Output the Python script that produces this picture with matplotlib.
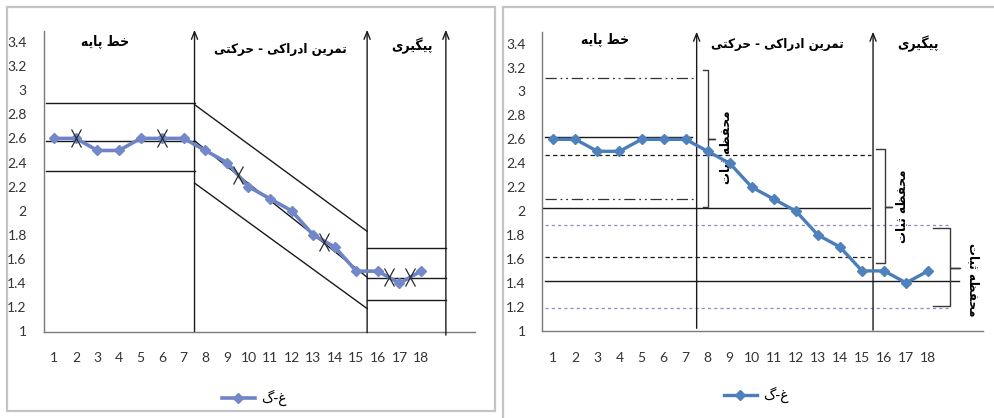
import matplotlib
matplotlib.use("Agg")
import matplotlib.pyplot as plt
from matplotlib.path import Path
from matplotlib.lines import Line2D
from matplotlib.patches import Rectangle

# ---------------- data ----------------
sessions = list(range(1, 19))
scores = [2.6, 2.6, 2.5, 2.5, 2.6, 2.6, 2.6, 2.5, 2.4, 2.2, 2.1, 2.0, 1.8, 1.7, 1.5, 1.5, 1.4, 1.5]

# phase boundaries (between sessions)
phase_bounds_left = [7.5, 15.5, 19.15]
phase_bounds_right = [7.5, 15.5]

# split-middle points (left chart)
split_x = [2, 6, 9.5, 13.5, 16.5, 17.5]
split_y = [2.6, 2.6, 2.3, 1.74, 1.45, 1.45]

# trend bands (left chart): baseline levels, intervention trend ends, follow-up levels
base_levels = [2.89, 2.58, 2.33]
trend_start = [2.88, 2.58, 2.23]
trend_end = [1.83, 1.45, 1.19]
follow_levels = [1.69, 1.44, 1.26]

# stability envelopes (right chart)
base_median = 2.62
base_env = [3.11, 2.10]
interv_median = 2.03
interv_env = [2.47, 1.62]
follow_median = 1.415
follow_env = [1.88, 1.19]

legend_label = "غ-گ"
phase_names = ["خط پایه", "تمرین ادراکی - حرکتی", "پیگیری"]
envelope_label = "محفظه ثبات"

# ---------------- Persian shaping (presentation forms, visual order) ----------------
FORMS = {
    'ا': ('\uFE8D', '\uFE8E', None, None),
    'ب': ('\uFE8F', '\uFE90', '\uFE91', '\uFE92'),
    'پ': ('\uFB56', '\uFB57', '\uFB58', '\uFB59'),
    'ت': ('\uFE95', '\uFE96', '\uFE97', '\uFE98'),
    'ث': ('\uFE99', '\uFE9A', '\uFE9B', '\uFE9C'),
    'ح': ('\uFEA1', '\uFEA2', '\uFEA3', '\uFEA4'),
    'خ': ('\uFEA5', '\uFEA6', '\uFEA7', '\uFEA8'),
    'د': ('\uFEA9', '\uFEAA', None, None),
    'ر': ('\uFEAD', '\uFEAE', None, None),
    'ط': ('\uFEC1', '\uFEC2', '\uFEC3', '\uFEC4'),
    'ظ': ('\uFEC5', '\uFEC6', '\uFEC7', '\uFEC8'),
    'غ': ('\uFECD', '\uFECE', '\uFECF', '\uFED0'),
    'ف': ('\uFED1', '\uFED2', '\uFED3', '\uFED4'),
    'ک': ('\uFB8E', '\uFB8F', '\uFB90', '\uFB91'),
    'گ': ('\uFB92', '\uFB93', '\uFB94', '\uFB95'),
    'م': ('\uFEE1', '\uFEE2', '\uFEE3', '\uFEE4'),
    'ن': ('\uFEE5', '\uFEE6', '\uFEE7', '\uFEE8'),
    'ه': ('\uFEE9', '\uFEEA', '\uFEEB', '\uFEEC'),
    'ی': ('\uFBFC', '\uFBFD', '\uFBFE', '\uFBFF'),
}


def rtl(text):
    out = []
    n = len(text)
    for i, ch in enumerate(text):
        f = FORMS.get(ch)
        if f is None:
            out.append(ch)
            continue
        prev = text[i - 1] if i > 0 else ''
        nxt = text[i + 1] if i + 1 < n else ''
        jp = prev in FORMS and FORMS[prev][2] is not None
        jn = f[2] is not None and nxt in FORMS
        if jp and jn:
            g = f[3]
        elif jp:
            g = f[1]
        elif jn:
            g = f[2]
        else:
            g = f[0]
        out.append(g)
    return ''.join(reversed(out))


FA = ['DejaVu Sans']
NUM = ['Lato', 'DejaVu Sans']
FA_KW = dict(family=FA, weight='bold', stretch='condensed')

# ---------------- figure ----------------
W, H = 995, 418
fig = plt.figure(figsize=(W / 100, H / 100), dpi=100)
fig.patch.set_facecolor('white')


def fx(px):
    return px / W


def fy(py):
    return 1 - py / H


# panel frames
fig.patches.append(Rectangle((fx(7), fy(411)), fx(495) - fx(7), fy(7) - fy(411),
                             transform=fig.transFigure, fill=False,
                             edgecolor='#c4c4c4', lw=1.6))
fig.patches.append(Rectangle((fx(503), fy(430)), fx(1010) - fx(503), fy(7) - fy(430),
                             transform=fig.transFigure, fill=False,
                             edgecolor='#c4c4c4', lw=1.6))

axL = fig.add_axes([fx(43.5), fy(331.5), fx(475) - fx(43.5), fy(31) - fy(331.5)])
axR = fig.add_axes([fx(542.3), fy(330.7), fx(983.3) - fx(542.3), fy(31.7) - fy(330.7)])

yt = [1, 1.2, 1.4, 1.6, 1.8, 2, 2.2, 2.4, 2.6, 2.8, 3, 3.2, 3.4]
ytl = ['1', '1.2', '1.4', '1.6', '1.8', '2', '2.2', '2.4', '2.6', '2.8', '3', '3.2', '3.4']

for ax, top in ((axL, 3.49), (axR, 3.5)):
    ax.set_xlim(0.5, 20.5)
    ax.set_ylim(1, top)
    ax.set_facecolor('none')
    for s in ('top', 'right'):
        ax.spines[s].set_visible(False)
    for s in ('left', 'bottom'):
        ax.spines[s].set_color('#7a7a7a')
        ax.spines[s].set_linewidth(1.0)
    ax.set_xticks(sessions)
    ax.set_xticklabels([str(s) for s in sessions], family=NUM, fontsize=10, color='#333333')
    ax.set_yticks(yt)
    ax.set_yticklabels(ytl, family=NUM, fontsize=10, color='#333333')
    ax.tick_params(axis='x', length=0, pad=15)
    ax.tick_params(axis='y', length=0, pad=12)

# ---------------- left chart ----------------
k = '#1a1a1a'
for lv in base_levels:
    axL.plot([0.6, 7.5], [lv, lv], color=k, lw=1.0)
for a, b in zip(trend_start, trend_end):
    axL.plot([7.5, 15.5], [a, b], color=k, lw=1.0)
for lv in follow_levels:
    axL.plot([15.5, 19.15], [lv, lv], color=k, lw=1.0)

axL.plot(sessions, scores, color='#6f84c6', lw=2.6, marker='D', ms=5.5,
         mfc='#7288c8', mec='#7288c8', zorder=4)

xmark = Path([(-0.55, -1), (0.55, 1), (-0.55, 1), (0.55, -1)],
             [Path.MOVETO, Path.LINETO, Path.MOVETO, Path.LINETO])
axL.plot(split_x, split_y, ls='none', marker=xmark, ms=13, mfc='none',
         mec='#2a2a2a', mew=0.9, zorder=5)

bottoms_L = [1.0, 0.99, 0.97]
for xb, yb in zip(phase_bounds_left, bottoms_L):
    axL.annotate('', xy=(xb, 3.50), xytext=(xb, yb), annotation_clip=False,
                 arrowprops=dict(arrowstyle='->,head_length=0.55,head_width=0.22',
                                 color=k, lw=1.0, shrinkA=0, shrinkB=0))

axL.text(3.35, 3.40, rtl(phase_names[0]), fontsize=10, ha='center', va='center', **FA_KW)
axL.text(11.47, 3.34, rtl(phase_names[1]), fontsize=9.5, ha='center', va='center', **FA_KW)
axL.text(17.6, 3.37, rtl(phase_names[2]), fontsize=10, ha='center', va='center', **FA_KW)

# ---------------- right chart ----------------
blue = '#4a7ebb'
dashdotdot = (0, (9, 3, 1.5, 3, 1.5, 3))
for lv in base_env:
    axR.plot([0.6, 7.4], [lv, lv], color='#333333', lw=0.9, ls=dashdotdot)
axR.plot([0.6, 7.3], [base_median, base_median], color=k, lw=1.0)
axR.plot([0.4, 15.35], [interv_median, interv_median], color=k, lw=1.0)
for lv in interv_env:
    axR.plot([0.6, 15.4], [lv, lv], color=k, lw=0.9, ls=(0, (3.5, 2.5)))
for lv in follow_env:
    axR.plot([0.6, 18.9], [lv, lv], color='#8a8cc0', lw=0.9, ls=(0, (2.5, 2.5)))
axR.plot([0.6, 19.4], [follow_median, follow_median], color=k, lw=1.0)

axR.plot(sessions, scores, color=blue, lw=2.4, marker='D', ms=5.5,
         mfc='#4f81bd', mec='#4f81bd', zorder=4)

bottoms_R = [1.02, 1.005]
for xb, yb in zip(phase_bounds_right, bottoms_R):
    axR.annotate('', xy=(xb, 3.50), xytext=(xb, yb), annotation_clip=False,
                 arrowprops=dict(arrowstyle='->,head_length=0.55,head_width=0.22',
                                 color=k, lw=1.0, shrinkA=0, shrinkB=0))

axR.text(3.34, 3.43, rtl(phase_names[0]), fontsize=10, ha='center', va='center', **FA_KW)
axR.text(11.18, 3.39, rtl(phase_names[1]), fontsize=9.5, ha='center', va='center', **FA_KW)
axR.text(17.52, 3.40, rtl(phase_names[2]), fontsize=10, ha='center', va='center', **FA_KW)


def brace(ax, x, x_left, x_nub, y_top, y_bot, y_mid):
    ax.plot([x_left, x, x, x_nub, x, x, x_left],
            [y_top, y_top, y_mid, y_mid, y_mid, y_bot, y_bot],
            color='#3a3a3a', lw=1.0, clip_on=False, solid_joinstyle='round')


brace(axR, 8.02, 7.77, 8.33, 3.177, 2.035, 2.607)
brace(axR, 16.03, 15.62, 16.34, 2.523, 1.563, 2.035)
brace(axR, 19.01, 18.21, 19.44, 1.855, 1.209, 1.526)

axR.text(8.83, 2.53, rtl(envelope_label), fontsize=9.5, rotation=90,
         ha='center', va='center', **FA_KW)
axR.text(16.8, 2.04, rtl(envelope_label), fontsize=9.5, rotation=90,
         ha='center', va='center', **FA_KW)
axR.text(20.06, 1.43, rtl(envelope_label), fontsize=9.5, rotation=270,
         ha='center', va='center', clip_on=False, **FA_KW)

# ---------------- legends ----------------
hL = Line2D([], [], color='#6f84c6', lw=2.6, marker='D', ms=5.5, mfc='#7288c8', mec='#7288c8')
hR = Line2D([], [], color=blue, lw=2.4, marker='D', ms=5.5, mfc='#4f81bd', mec='#4f81bd')
fig.legend([hL], [rtl(legend_label)], loc='center', bbox_to_anchor=(fx(254), fy(398)),
           frameon=False, prop={'family': FA, 'size': 10}, handlelength=2.4,
           handletextpad=0.4)
fig.legend([hR], [rtl(legend_label)], loc='center', bbox_to_anchor=(fx(756), fy(395)),
           frameon=False, prop={'family': FA, 'size': 10}, handlelength=2.4,
           handletextpad=0.4)

fig.savefig('out.png', dpi=100)
